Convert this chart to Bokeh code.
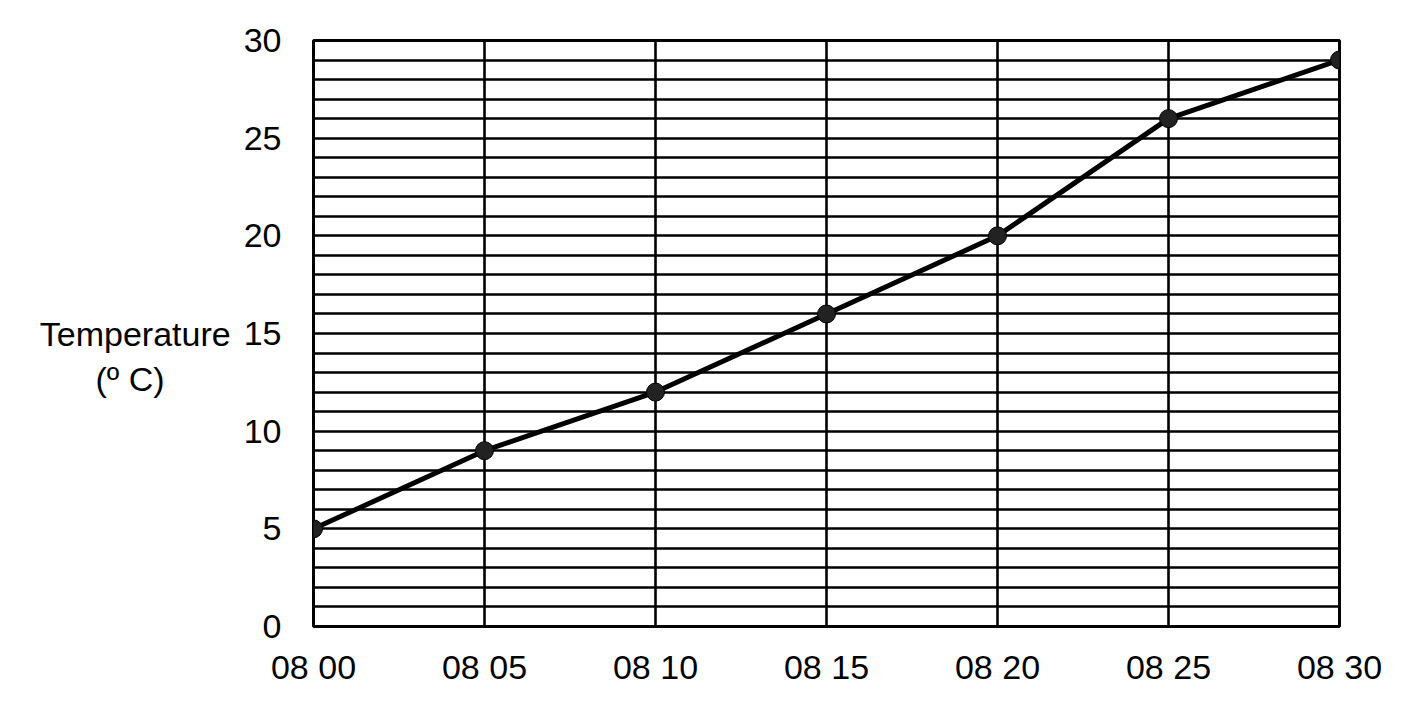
from bokeh.plotting import figure
from bokeh.models import FixedTicker, Range1d
from bokeh.embed import file_html
from bokeh.resources import INLINE

# Data
minutes = [0, 5, 10, 15, 20, 25, 30]
time_labels = ["08 00", "08 05", "08 10", "08 15", "08 20", "08 25", "08 30"]
temperature = [5, 9, 12, 16, 20, 26, 29]
y_ticks = [0, 5, 10, 15, 20, 25, 30]
y_grid = list(range(0, 31))
y_title_lines = ["Temperature", "(º C)"]

FONT = "Liberation Sans"

p = figure(width=1397, height=696, output_backend="svg", toolbar_location=None,
           x_range=Range1d(0, 30), y_range=Range1d(0, 30),
           min_border_left=313, min_border_right=58, min_border_top=40, min_border_bottom=70)
p.background_fill_color = "white"
p.border_fill_color = "white"
p.outline_line_color = "black"
p.outline_line_width = 3

# grid
p.xgrid.ticker = FixedTicker(ticks=minutes)
p.ygrid.ticker = FixedTicker(ticks=y_grid)
for g in (p.xgrid, p.ygrid):
    g.grid_line_color = "black"
    g.grid_line_width = 2.6
    g.grid_line_alpha = 1.0

# axes
p.xaxis.ticker = FixedTicker(ticks=minutes)
p.xaxis.major_label_overrides = {m: t for m, t in zip(minutes, time_labels)}
p.yaxis.ticker = FixedTicker(ticks=y_ticks)
for ax in (p.xaxis, p.yaxis):
    ax.axis_line_color = None
    ax.major_tick_line_color = None
    ax.minor_tick_line_color = None
    ax.major_label_text_font = FONT
    ax.major_label_text_color = "black"
p.xaxis.major_label_text_font_size = "34px"
p.yaxis.major_label_text_font_size = "34px"
p.xaxis.major_label_standoff = 15
p.yaxis.major_label_standoff = 26

# horizontal two-line title; second line padded so it sits centred under the first
pad = "\u00a0" * 7
p.yaxis.axis_label = "\n" + y_title_lines[0] + "\n" + y_title_lines[1] + pad
p.yaxis.axis_label_orientation = "horizontal"
p.yaxis.axis_label_text_font = FONT
p.yaxis.axis_label_text_font_style = "normal"
p.yaxis.axis_label_text_font_size = "34px"
p.yaxis.axis_label_text_color = "black"
p.yaxis.axis_label_text_align = "center"
p.yaxis.axis_label_standoff = 10

p.line(minutes, temperature, line_color="black", line_width=5)
p.scatter(minutes, temperature, size=18, fill_color="#222222", line_color="black", line_width=1)

open("out.html", "w").write(file_html(p, INLINE))
